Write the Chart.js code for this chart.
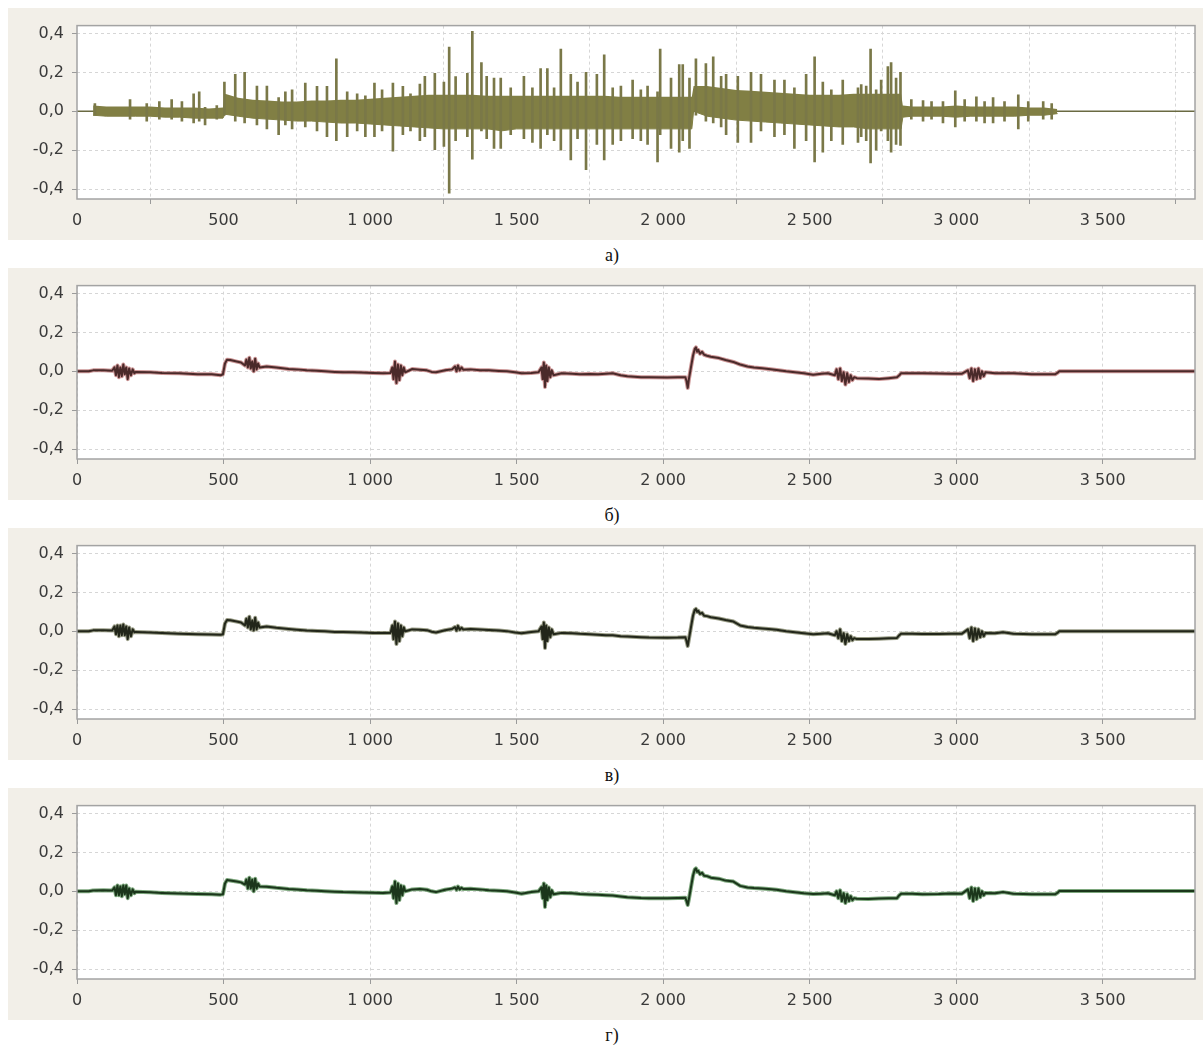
<!DOCTYPE html>
<html>
<head>
<meta charset="utf-8">
<script src="https://cdn.jsdelivr.net/npm/chart.js@4.4.1/dist/chart.umd.min.js"></script>
<style>
  body { margin: 0; background: #fff; width: 1203px; height: 1046px; position: relative; overflow: hidden; }
  .panel { position: absolute; left: 8px; width: 1195px; height: 232px; background: #f2efe8; }
  .panel canvas { display: block; }
  .cap { position: absolute; left: 0; width: 1224px; text-align: center; font: 18px "Liberation Serif", serif; color: #111; line-height: 20px; }
</style>
</head>
<body>
<div class="panel" style="top:8px"><canvas id="chartA" width="1195" height="232"></canvas></div>
<div class="cap" style="top:245px">а)</div>
<div class="panel" style="top:268px"><canvas id="chartB" width="1195" height="232"></canvas></div>
<div class="cap" style="top:505px">б)</div>
<div class="panel" style="top:528px"><canvas id="chartC" width="1195" height="232"></canvas></div>
<div class="cap" style="top:765px">в)</div>
<div class="panel" style="top:788px"><canvas id="chartD" width="1195" height="232"></canvas></div>
<div class="cap" style="top:1025px">г)</div>

<script>
// axes
const xTicks = [0, 500, 1000, 1500, 2000, 2500, 3000, 3500];
const xTickLabels = ["0", "500", "1 000", "1 500", "2 000", "2 500", "3 000", "3 500"];
const yTicks = [-0.4, -0.2, 0, 0.2, 0.4];
const yTickLabels = ["-0,4", "-0,2", "0,0", "0,2", "0,4"];

// a) raw signal: dense core band + single spikes
const bandX = [55, 100, 150, 200, 250, 300, 350, 400, 450, 498,
  505, 550, 600, 650, 700, 750, 800, 850, 900, 950,
  1000, 1050, 1100, 1150, 1200, 1250, 1300, 1350, 1400, 1450,
  1500, 1550, 1600, 1650, 1700, 1750, 1800, 1850, 1900, 1950,
  2000, 2050, 2098, 2104, 2150, 2200, 2250, 2300, 2350, 2400,
  2450, 2500, 2550, 2600, 2650, 2700, 2750, 2812, 2818, 2850,
  2900, 2950, 3000, 3050, 3100, 3150, 3200, 3250, 3300, 3345];
const bandHi = [0.03, 0.025, 0.025, 0.025, 0.025, 0.02, 0.02, 0.02, 0.015, 0.02,
  0.09, 0.07, 0.06, 0.055, 0.05, 0.05, 0.055, 0.055, 0.06, 0.06,
  0.065, 0.07, 0.075, 0.08, 0.085, 0.085, 0.085, 0.085, 0.08, 0.08,
  0.08, 0.08, 0.08, 0.08, 0.08, 0.08, 0.08, 0.075, 0.075, 0.075,
  0.075, 0.075, 0.075, 0.13, 0.13, 0.12, 0.11, 0.105, 0.1, 0.095,
  0.09, 0.085, 0.085, 0.085, 0.09, 0.09, 0.09, 0.09, 0.03, 0.025,
  0.025, 0.025, 0.03, 0.025, 0.025, 0.025, 0.025, 0.02, 0.02, 0.012];
const bandLo = [-0.02, -0.025, -0.025, -0.025, -0.025, -0.03, -0.03, -0.035, -0.035, -0.035,
  -0.015, -0.025, -0.035, -0.04, -0.045, -0.05, -0.05, -0.055, -0.06, -0.06,
  -0.065, -0.07, -0.075, -0.08, -0.085, -0.09, -0.09, -0.09, -0.09, -0.1,
  -0.09, -0.09, -0.09, -0.09, -0.09, -0.09, -0.09, -0.09, -0.09, -0.09,
  -0.09, -0.09, -0.09, 0.0, -0.025, -0.035, -0.045, -0.05, -0.055, -0.06,
  -0.065, -0.07, -0.075, -0.08, -0.08, -0.09, -0.09, -0.09, -0.03, -0.025,
  -0.025, -0.025, -0.03, -0.025, -0.025, -0.025, -0.025, -0.02, -0.02, -0.012];

const spikeX = [61, 181, 238, 281, 323, 358, 398, 417, 437, 477,
  503, 540, 572, 614, 648, 688, 711, 734, 779, 819,
  853, 885, 922, 956, 984, 1015, 1041, 1078, 1112, 1138,
  1170, 1187, 1221, 1252, 1270, 1292, 1332,
  1349, 1380, 1398, 1423, 1446, 1480, 1525, 1554, 1582, 1605,
  1628, 1651, 1685, 1708, 1737, 1774, 1799, 1828, 1856, 1896,
  1924, 1947, 1981, 1990, 2027, 2055, 2067, 2090, 2112, 2146,
  2171, 2198, 2215, 2255, 2300, 2334, 2380, 2414, 2448, 2488,
  2517, 2545, 2574, 2613, 2665,
  2676, 2693, 2708, 2727, 2744, 2767, 2778, 2795, 2810, 2847,
  2887, 2916, 2955, 2997, 3029, 3069, 3097, 3126, 3165, 3212,
  3246, 3297, 3326];
const spikeHi = [0.04, 0.06, 0.04, 0.05, 0.06, 0.05, 0.09, 0.1, 0.02, 0.03,
  0.15, 0.19, 0.2, 0.13, 0.13, 0.07, 0.1, 0.11, 0.145, 0.128,
  0.128, 0.27, 0.1, 0.09, 0.08, 0.145, 0.11, 0.145, 0.128, 0.09,
  0.14, 0.18, 0.195, 0.15, 0.33, 0.178, 0.195,
  0.41, 0.25, 0.18, 0.17, 0.17, 0.12, 0.18, 0.12, 0.22, 0.22,
  0.12, 0.32, 0.19, 0.15, 0.2, 0.19, 0.29, 0.12, 0.13, 0.16,
  0.11, 0.13, 0.1, 0.32, 0.17, 0.24, 0.24, 0.17, 0.27, 0.245,
  0.28, 0.18, 0.19, 0.18, 0.2, 0.19, 0.16, 0.16, 0.12, 0.19,
  0.28, 0.15, 0.11, 0.16, 0.12,
  0.137, 0.13, 0.32, 0.11, 0.16, 0.23, 0.25, 0.17, 0.2, 0.06,
  0.055, 0.05, 0.05, 0.105, 0.06, 0.075, 0.05, 0.07, 0.05, 0.085,
  0.05, 0.05, 0.04];
const spikeLo = [-0.02, -0.04, -0.05, -0.04, -0.04, -0.05, -0.06, -0.05, -0.07, -0.04,
  -0.02, -0.05, -0.06, -0.07, -0.09, -0.12, -0.07, -0.09, -0.08, -0.1,
  -0.13, -0.15, -0.13, -0.1, -0.13, -0.13, -0.1, -0.205, -0.12, -0.1,
  -0.15, -0.13, -0.197, -0.18, -0.42, -0.15, -0.13,
  -0.245, -0.1, -0.14, -0.19, -0.19, -0.12, -0.14, -0.16, -0.19, -0.12,
  -0.15, -0.2, -0.25, -0.14, -0.3, -0.17, -0.25, -0.17, -0.15, -0.14,
  -0.15, -0.17, -0.26, -0.12, -0.19, -0.21, -0.15, -0.19, -0.02, -0.05,
  -0.06, -0.08, -0.12, -0.16, -0.16, -0.1, -0.13, -0.12, -0.19, -0.15,
  -0.26, -0.21, -0.15, -0.17, -0.16,
  -0.13, -0.15, -0.265, -0.2, -0.1, -0.15, -0.21, -0.17, -0.175, -0.04,
  -0.05, -0.04, -0.06, -0.08, -0.05, -0.05, -0.06, -0.06, -0.05, -0.09,
  -0.05, -0.04, -0.04];
const restX = [0, 3815];
const restY = [0, 0];

// б), в), г) filtered signals, same sample positions
const trendX = [0, 40, 55, 90, 120,
  128, 133, 138, 143, 148, 153, 158, 163, 168, 173, 178, 184, 190, 196,
  200, 250, 290, 349, 411, 460, 490, 498, 505, 512, 523, 545, 560,
  573, 578, 583, 588, 593, 598, 603, 608, 613, 618, 623,
  647, 680, 722, 750, 784, 820, 846, 880, 908, 940, 970, 1010, 1045, 1070,
  1076, 1080, 1085, 1090, 1095, 1100, 1105, 1110, 1115, 1120,
  1144, 1170, 1194, 1210, 1225, 1256, 1280, 1290, 1295, 1300, 1306, 1312, 1318, 1343, 1375, 1405, 1440, 1467, 1495, 1517, 1550, 1575,
  1585, 1589, 1593, 1597, 1601, 1605, 1610, 1615, 1620, 1626,
  1654, 1690, 1716, 1750, 1778, 1805, 1828, 1855, 1878, 1925, 1952, 2014, 2050, 2076,
  2080, 2084, 2088, 2095, 2102, 2108, 2112, 2116, 2120, 2126, 2133, 2140, 2150, 2163, 2190, 2213, 2240, 2263, 2288, 2310, 2338, 2360, 2387, 2420, 2450, 2480, 2512, 2540, 2562,
  2586, 2592, 2598, 2604, 2610, 2616, 2622, 2628, 2634, 2640, 2646, 2652,
  2661, 2700, 2736, 2770, 2798, 2806, 2812, 2850, 2885, 2940, 2984, 3020,
  3040, 3046, 3052, 3058, 3064, 3070, 3076, 3082, 3088, 3094, 3100,
  3133, 3160, 3195, 3230, 3257, 3300, 3338, 3348, 3352, 3815];
const seriesB = [0, 0, 0.005, 0.005, 0.003,
  0.02, -0.02, 0.03, -0.03, 0.02, -0.025, 0.035, -0.015, 0.02, -0.04, 0.015, -0.02, 0.01, -0.01,
  -0.003, -0.005, -0.008, -0.01, -0.015, -0.015, -0.02, -0.015, 0.04, 0.06, 0.058, 0.05, 0.045,
  0.03, 0.06, 0.02, 0.07, 0.015, 0.05, 0.0, 0.065, 0.01, 0.04, 0.02,
  0.025, 0.02, 0.012, 0.01, 0.005, 0.003, 0.0, -0.003, -0.005, -0.005, -0.006, -0.008, -0.01, -0.008,
  0.02, -0.04, 0.05, -0.06, 0.035, -0.045, 0.03, -0.02, 0.02, -0.005,
  0.012, 0.008, 0.005, -0.003, -0.005, 0.005, 0.01, 0.025, 0.0, 0.03, 0.005, 0.02, 0.008, 0.01, 0.006, 0.005, 0.002, 0.0, -0.005, -0.01, -0.008, -0.005,
  0.02, -0.04, 0.045, -0.08, 0.03, -0.05, 0.02, -0.03, 0.005, -0.02,
  -0.01, -0.012, -0.015, -0.014, -0.015, -0.012, -0.01, -0.02, -0.025, -0.03, -0.03, -0.032, -0.03, -0.03,
  -0.05, -0.085, -0.04, 0.02, 0.08, 0.115, 0.123, 0.1, 0.11, 0.09, 0.1, 0.085, 0.08, 0.075, 0.068, 0.058, 0.048, 0.035, 0.025, 0.02, 0.016, 0.012, 0.007, 0.0, -0.005, -0.01, -0.018, -0.012, -0.01,
  -0.02, 0.01, -0.04, 0.015, -0.05, -0.005, -0.068, -0.01, -0.055, -0.02, -0.045, -0.03,
  -0.035, -0.037, -0.04, -0.035, -0.03, -0.02, -0.01, -0.01, -0.01, -0.011, -0.012, -0.012,
  0.005, -0.035, 0.015, -0.05, 0.01, -0.04, 0.015, -0.035, 0.0, -0.025, -0.005,
  -0.01, -0.01, -0.01, -0.012, -0.015, -0.015, -0.015, -0.005, 0, 0];
const seriesC = [0, 0, 0.005, 0.005, 0.004,
  0.025, -0.015, 0.03, -0.025, 0.03, -0.02, 0.035, -0.02, 0.025, -0.04, 0.02, -0.025, 0.01, -0.005,
  -0.003, -0.006, -0.008, -0.012, -0.015, -0.016, -0.018, -0.015, 0.04, 0.058, 0.057, 0.05, 0.045,
  0.03, 0.065, 0.02, 0.075, 0.01, 0.055, 0.005, 0.07, 0.01, 0.045, 0.02,
  0.025, 0.018, 0.012, 0.008, 0.004, 0.002, 0.0, -0.003, -0.004, -0.005, -0.006, -0.008, -0.009, -0.008,
  0.03, -0.04, 0.05, -0.065, 0.04, -0.05, 0.03, -0.025, 0.02, 0.0,
  0.01, 0.008, 0.006, -0.002, -0.006, 0.006, 0.012, 0.022, 0.004, 0.028, 0.008, 0.018, 0.01, 0.012, 0.01, 0.007, 0.004, 0.001, -0.006, -0.01, -0.004, 0.0,
  0.025, -0.04, 0.045, -0.085, 0.03, -0.05, 0.02, -0.03, 0.01, -0.015,
  -0.008, -0.01, -0.013, -0.015, -0.017, -0.02, -0.02, -0.025, -0.027, -0.03, -0.032, -0.033, -0.032, -0.03,
  -0.05, -0.075, -0.04, 0.02, 0.08, 0.11, 0.115, 0.1, 0.105, 0.09, 0.095, 0.08, 0.078, 0.072, 0.066, 0.058, 0.05, 0.03, 0.022, 0.018, 0.015, 0.012, 0.008, 0.0, -0.005, -0.01, -0.015, -0.012, -0.01,
  -0.02, 0.0, -0.035, 0.01, -0.05, -0.01, -0.065, -0.015, -0.05, -0.025, -0.045, -0.035,
  -0.04, -0.04, -0.038, -0.036, -0.034, -0.02, -0.012, -0.012, -0.014, -0.014, -0.012, -0.012,
  0.01, -0.035, 0.02, -0.05, 0.015, -0.04, 0.01, -0.03, 0.0, -0.025, -0.008,
  -0.01, -0.005, -0.012, -0.014, -0.015, -0.015, -0.015, -0.005, 0, 0];
const seriesD = [0, 0, 0.004, 0.006, 0.004,
  0.02, -0.02, 0.03, -0.02, 0.025, -0.025, 0.03, -0.015, 0.03, -0.035, 0.015, -0.02, 0.01, -0.01,
  -0.002, -0.005, -0.008, -0.011, -0.014, -0.015, -0.017, -0.015, 0.04, 0.058, 0.056, 0.05, 0.046,
  0.035, 0.06, 0.015, 0.07, 0.015, 0.06, 0.0, 0.065, 0.015, 0.04, 0.025,
  0.024, 0.018, 0.012, 0.009, 0.005, 0.003, 0.001, -0.002, -0.004, -0.005, -0.006, -0.007, -0.008, -0.006,
  0.025, -0.035, 0.05, -0.06, 0.04, -0.045, 0.03, -0.02, 0.025, 0.0,
  0.01, 0.012, 0.008, 0.0, -0.004, 0.008, 0.014, 0.02, 0.008, 0.024, 0.01, 0.018, 0.012, 0.013, 0.01, 0.006, 0.003, 0.0, -0.006, -0.012, -0.004, 0.0,
  0.02, -0.035, 0.04, -0.08, 0.03, -0.045, 0.02, -0.03, 0.005, -0.015,
  -0.008, -0.01, -0.014, -0.016, -0.018, -0.02, -0.022, -0.026, -0.03, -0.034, -0.035, -0.035, -0.034, -0.033,
  -0.05, -0.07, -0.04, 0.02, 0.08, 0.112, 0.118, 0.1, 0.105, 0.088, 0.095, 0.08, 0.078, 0.07, 0.065, 0.055, 0.05, 0.028, 0.02, 0.017, 0.015, 0.012, 0.008, 0.0, -0.005, -0.01, -0.014, -0.012, -0.01,
  -0.02, 0.0, -0.035, 0.005, -0.05, -0.01, -0.06, -0.015, -0.05, -0.025, -0.045, -0.035,
  -0.038, -0.04, -0.037, -0.036, -0.035, -0.02, -0.013, -0.013, -0.015, -0.014, -0.011, -0.012,
  0.01, -0.035, 0.02, -0.05, 0.015, -0.04, 0.015, -0.03, 0.0, -0.02, -0.008,
  -0.01, -0.004, -0.012, -0.014, -0.015, -0.015, -0.015, -0.005, 0.002, 0.002];

const xMax = 3815;
const yMin = -0.45;
const yMax = 0.44;

function points(xs, ys) {
  return xs.map((x, i) => ({ x: x, y: ys[i] }));
}

function lineSet(xs, ys, color, width) {
  return {
    type: "line",
    data: points(xs, ys),
    borderColor: color,
    borderWidth: width,
    borderJoinStyle: "round",
    borderCapStyle: "round",
    pointRadius: 0,
    tension: 0,
    fill: false
  };
}

// white plot area + grey frame, like the original program
const plotFrame = {
  id: "plotFrame",
  beforeDraw(chart) {
    const a = chart.chartArea;
    chart.ctx.save();
    chart.ctx.fillStyle = "#ffffff";
    chart.ctx.fillRect(a.left, a.top, a.right - a.left, a.bottom - a.top);
    chart.ctx.restore();
  },
  afterDraw(chart) {
    const a = chart.chartArea;
    const ctx = chart.ctx;
    ctx.save();
    ctx.strokeStyle = "#a3a3a3";
    ctx.lineWidth = 1.5;
    ctx.strokeRect(a.left, a.top, a.right - a.left, a.bottom - a.top);
    ctx.restore();
  }
};

const tickFont = { family: "DejaVu Sans", size: 16 };

function makeChart(id, datasets) {
  return new Chart(document.getElementById(id), {
    type: "line",
    data: { datasets: datasets },
    options: {
      responsive: false,
      animation: false,
      events: [],
      layout: { padding: { top: 13, right: 8, left: 0, bottom: 0 } },
      plugins: { legend: { display: false }, tooltip: { enabled: false } },
      scales: {
        x: {
          type: "linear",
          min: 0,
          max: xMax,
          offset: false,
          afterBuildTicks: s => { s.ticks = xTicks.map(v => ({ value: v })); },
          afterFit: s => { s.height = 41; },
          ticks: {
            font: tickFont,
            color: "#3a3a3a",
            padding: 7,
            maxRotation: 0,
            callback: v => xTickLabels[xTicks.indexOf(v)]
          },
          grid: { color: "#d6d6d6", tickColor: "#9a9a9a", tickLength: 5, borderDash: [3, 3] },
          border: { display: false, dash: [3, 3] }
        },
        y: {
          min: yMin,
          max: yMax,
          afterBuildTicks: s => { s.ticks = yTicks.map(v => ({ value: v })); },
          afterFit: s => { s.width = 69; },
          ticks: {
            font: tickFont,
            color: "#3a3a3a",
            padding: 8,
            callback: v => yTickLabels[yTicks.indexOf(v)]
          },
          grid: { color: "#d6d6d6", tickColor: "#9a9a9a", tickLength: 5, borderDash: [3, 3] },
          border: { display: false, dash: [3, 3] }
        }
      }
    },
    plugins: [plotFrame]
  });
}

// a)
makeChart("chartA", [
  {
    type: "bar",
    data: spikeX.map((x, i) => ({ x: x, y: [spikeLo[i], spikeHi[i]] })),
    backgroundColor: "#7a7848",
    borderWidth: 0,
    barThickness: 2,
    grouped: false
  },
  lineSet(bandX, bandHi, "rgba(0,0,0,0)", 0),
  Object.assign(lineSet(bandX, bandLo, "#817f44", 1), { fill: "-1", backgroundColor: "#817f44" }),
  lineSet(restX, restY, "#6a6a42", 1.5)
]);

// б)
makeChart("chartB", [
  lineSet(trendX, seriesB, "#4a2a2a", 2),
  lineSet(trendX, seriesB, "rgba(170,80,80,0.6)", 4)
]);

// в)
makeChart("chartC", [
  lineSet(trendX, seriesC, "#22261a", 2),
  lineSet(trendX, seriesC, "rgba(70,75,35,0.55)", 4)
]);

// г)
makeChart("chartD", [
  lineSet(trendX, seriesD, "#1b361b", 2),
  lineSet(trendX, seriesD, "rgba(40,110,40,0.6)", 4)
]);
</script>
</body>
</html>
